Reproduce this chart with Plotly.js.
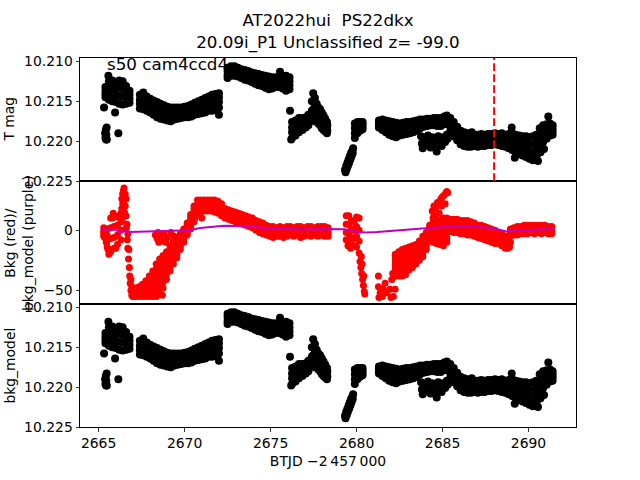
<!DOCTYPE html>
<html><head><meta charset="utf-8">
<script src="https://cdn.plot.ly/plotly-3.0.1.min.js"></script>
<style>html,body{margin:0;padding:0;background:#fff}#chart{width:640px;height:480px}</style>
</head><body><div id="chart"></div>
<script>
// ---------- Light curve (T mag), read as band rows ----------
const magTime = [
 2665.4,2665.6,2665.8,2666.0,2666.2,2666.4,2666.6,2666.8,
 2667.4,2667.6,2667.8,2668.0,2668.2,2668.4,2668.6,2668.8,2669.0,2669.2,2669.4,2669.6,2669.8,2670.0,2670.2,2670.4,2670.6,2670.8,2671.0,2671.2,2671.4,2671.6,2671.8,2672.0,
 2672.5,2672.7,2672.9,2673.1,2673.3,2673.5,2673.7,2673.9,2674.1,2674.3,2674.5,2674.7,2674.9,2675.1,2675.3,2675.5,2675.7,2675.9,2676.1,
 2676.25,2676.45,2676.65,2676.85,2677.05,2677.2,
 2679.9,2680.05,2680.2,2680.35,
 2681.3,2681.5,2681.7,2681.9,2682.1,2682.3,2682.5,2682.7,2682.9,2683.1,2683.3,2683.5,2683.7,2683.9,2684.1,2684.3,2684.5,2684.7,2684.9,2685.1,2685.25,
 2685.45,2685.65,2685.85,2686.05,2686.25,2686.45,2686.65,2686.85,2687.05,2687.25,2687.45,2687.65,2687.85,2688.05,2688.25,2688.45,2688.65,2688.85,2689.05,2689.25,2689.45,2689.65,2689.85,2690.05,2690.25,2690.45,
 2690.65,2690.85,2691.05,2691.25,2691.4];
const magUpper = [
 10.2132,10.2125,10.2124,10.2126,10.2124,10.2125,10.2131,10.2137,
 10.2142,10.2139,10.2144,10.2147,10.2149,10.2151,10.2153,10.2155,10.2157,10.2158,10.2158,10.2158,10.2158,10.2157,10.2156,10.2154,10.2152,10.2150,10.2148,10.2146,10.2144,10.2142,10.2141,10.2140,
 10.2108,10.2106,10.2106,10.2108,10.2110,10.2111,10.2112,10.2114,10.2115,10.2116,10.2117,10.2118,10.2119,10.2120,10.2120,10.2120,10.2119,10.2118,10.2120,
 10.2176,10.2174,10.2171,10.2171,10.2170,10.2167,
 10.2178,10.2176,10.2176,10.2176,
 10.2174,10.2173,10.2174,10.2175,10.2176,10.2177,10.2178,10.2177,10.2176,10.2176,10.2175,10.2174,10.2173,10.2173,10.2172,10.2172,10.2171,10.2171,10.2171,10.2169,10.2168,
 10.2171,10.2176,10.2182,10.2187,10.2189,10.2190,10.2191,10.2192,10.2192,10.2191,10.2192,10.2191,10.2191,10.2190,10.2191,10.2190,10.2192,10.2191,10.2190,10.2192,10.2193,10.2194,10.2194,10.2195,10.2194,10.2192,
 10.2184,10.2180,10.2179,10.2178,10.2180];
const magMid1 = [
 10.2137,10.2132,10.2133,10.2134,10.2133,10.2134,10.2138,10.2142,
 10.2148,10.2146,10.2150,10.2153,10.2155,10.2157,10.2159,10.2161,10.2163,10.2164,10.2163,10.2162,10.2162,10.2161,10.2161,10.2159,10.2157,10.2155,10.2153,10.2151,10.2149,10.2148,10.2147,10.2145,
 10.2112,10.2110,10.2110,10.2112,10.2114,10.2115,10.2116,10.2118,10.2119,10.2121,10.2122,10.2123,10.2124,10.2125,10.2124,10.2124,10.2124,10.2124,10.2125,
 10.2183,10.2180,10.2177,10.2176,10.2174,10.2171,
 10.2184,10.2181,10.2180,10.2179,
 10.2177,10.2177,10.2179,10.2180,10.2182,10.2183,10.2183,10.2182,10.2181,10.2181,10.2180,10.2178,10.2177,10.2176,10.2175,10.2175,10.2174,10.2174,10.2174,10.2172,10.2171,
 10.2177,10.2182,10.2188,10.2193,10.2195,10.2196,10.2196,10.2197,10.2197,10.2196,10.2197,10.2196,10.2196,10.2195,10.2196,10.2195,10.2197,10.2197,10.2197,10.2199,10.2201,10.2202,10.2203,10.2204,10.2204,10.2202,
 10.2192,10.2187,10.2185,10.2183,10.2184];
const magMid2 = [
 10.2141,10.2140,10.2142,10.2143,10.2143,10.2144,10.2146,10.2147,
 10.2153,10.2153,10.2156,10.2158,10.2161,10.2164,10.2166,10.2167,10.2168,10.2169,10.2168,10.2167,10.2167,10.2166,10.2165,10.2164,10.2162,10.2161,10.2159,10.2157,10.2155,10.2155,10.2154,10.2151,
 10.2117,10.2114,10.2114,10.2115,10.2117,10.2119,10.2120,10.2122,10.2124,10.2125,10.2126,10.2128,10.2130,10.2129,10.2128,10.2128,10.2129,10.2131,10.2130,
 10.2189,10.2187,10.2183,10.2181,10.2179,10.2176,
 10.2190,10.2186,10.2184,10.2182,
 10.2180,10.2182,10.2184,10.2186,10.2188,10.2189,10.2188,10.2187,10.2186,10.2185,10.2184,10.2183,10.2180,10.2179,10.2178,10.2177,10.2177,10.2178,10.2178,10.2176,10.2175,
 10.2182,10.2188,10.2193,10.2198,10.2200,10.2201,10.2202,10.2201,10.2202,10.2201,10.2201,10.2200,10.2200,10.2199,10.2200,10.2201,10.2202,10.2203,10.2204,10.2207,10.2208,10.2210,10.2211,10.2213,10.2214,10.2212,
 10.2200,10.2194,10.2191,10.2188,10.2188];
const magLower = [
 10.2145,10.2148,10.2150,10.2151,10.2153,10.2154,10.2153,10.2152,
 10.2159,10.2160,10.2162,10.2164,10.2167,10.2170,10.2172,10.2173,10.2174,10.2175,10.2173,10.2172,10.2171,10.2170,10.2170,10.2169,10.2167,10.2166,10.2165,10.2164,10.2162,10.2162,10.2161,10.2158,
 10.2121,10.2118,10.2118,10.2119,10.2121,10.2123,10.2124,10.2126,10.2128,10.2130,10.2131,10.2133,10.2135,10.2134,10.2132,10.2132,10.2134,10.2137,10.2135,
 10.2196,10.2193,10.2189,10.2186,10.2183,10.2180,
 10.2196,10.2190,10.2187,10.2185,
 10.2183,10.2186,10.2189,10.2192,10.2194,10.2195,10.2193,10.2192,10.2191,10.2190,10.2189,10.2187,10.2184,10.2182,10.2181,10.2180,10.2180,10.2181,10.2181,10.2179,10.2178,
 10.2188,10.2194,10.2199,10.2204,10.2206,10.2207,10.2207,10.2206,10.2207,10.2206,10.2206,10.2205,10.2205,10.2204,10.2205,10.2206,10.2207,10.2209,10.2211,10.2214,10.2216,10.2218,10.2220,10.2222,10.2224,10.2222,
 10.2208,10.2201,10.2197,10.2193,10.2192];
// isolated points, spike at 2677.5, dip at 2679.5, sub-cluster near 2684.5
const magExtraTime = [
 2665.38,2665.40,2665.42,2665.45,2665.47,2665.48,2665.44,
 2665.32,2665.57,2665.96,2666.15,2672.0,2675.55,2676.13,2676.2,
 2677.40,2677.40,2677.40,2677.48,2677.48,2677.48,2677.48,2677.58,2677.58,2677.58,2677.58,2677.68,2677.68,2677.68,2677.78,2677.78,2677.78,2677.88,2677.88,2677.88,2677.98,2677.98,2677.98,2678.08,2678.08,2678.08,2678.18,2678.18,2678.18,2678.28,2678.28,2678.28,2678.30,2678.30,
 2679.33,2679.36,2679.40,2679.43,2679.47,2679.50,2679.54,2679.57,2679.61,2679.64,2679.68,2679.71,2679.75,2679.78,2679.80,
 2683.75,2683.8,2683.85,2683.95,2684.05,2684.15,2684.25,2684.3,2684.4,2684.5,2684.6,2684.66,2684.75,2684.85,2684.95,2685.05,2685.15,2685.25,2685.3,
 2686.7,2689.02,2689.2,2690.55,2690.5,
 2691.15,2690.7,2690.9,2691.3];
const magExtraValue = [
 10.2190,10.2196,10.2186,10.2192,10.2183,10.2198,10.2198,
 10.2158,10.2118,10.2164,10.2190,10.2167,10.2113,10.2162,10.2198,
 10.2150,10.2162,10.2174,10.2140,10.2150,10.2160,10.2170,10.2146,10.2156,10.2166,10.2175,10.2153,10.2163,10.2173,10.2158,10.2168,10.2178,10.2160,10.2170,10.2180,10.2164,10.2174,10.2184,10.2168,10.2177,10.2186,10.2172,10.2180,10.2188,10.2176,10.2183,10.2190,10.2180,10.2187,
 10.2236,10.2239,10.2231,10.2235,10.2227,10.2231,10.2223,10.2227,10.2219,10.2223,10.2215,10.2219,10.2212,10.2215,10.2209,
 10.2194,10.2203,10.2209,10.2197,10.2205,10.2193,10.2200,10.2208,10.2195,10.2202,10.2209,10.2213,10.2194,10.2200,10.2206,10.2195,10.2201,10.2192,10.2197,
 10.2189,10.2183,10.2221,10.2225,10.2217,
 10.2169,10.2214,10.2210,10.2181];

// ---------- Background (red), read as band rows ----------
const bkgTime = [
 2665.3,2665.5,2665.7,2665.9,2666.1,2666.3,
 2667.15,2667.35,2667.55,2667.75,2667.95,2668.15,2668.35,2668.55,2668.75,2668.95,2669.15,2669.35,2669.55,2669.75,2669.95,2670.15,2670.35,2670.55,
 2670.75,2670.95,2671.15,2671.35,2671.55,2671.75,2671.95,2672.15,
 2672.35,2672.55,2672.75,2672.95,2673.15,2673.35,2673.55,2673.75,2673.95,2674.15,2674.35,2674.55,2674.75,
 2674.95,2675.15,2675.35,2675.55,2675.75,2675.95,2676.15,2676.35,2676.55,2676.75,2676.95,2677.15,2677.35,2677.55,2677.75,2677.95,2678.15,2678.35,
 2679.4,2679.55,2679.7,2679.85,2680.0,2680.15,
 2682.25,2682.45,2682.65,2682.85,2683.05,2683.25,2683.45,2683.65,2683.85,2684.05,2684.25,2684.45,2684.65,2684.85,2685.05,2685.25,
 2685.45,2685.65,2685.85,2686.05,2686.25,2686.45,2686.65,2686.85,2687.05,2687.25,2687.45,2687.65,2687.85,2688.05,2688.25,2688.45,2688.65,2688.8,
 2688.95,2689.15,2689.35,2689.55,2689.75,2689.95,2690.15,2690.35,2690.55,2690.75,2690.95,2691.15,2691.35];
const bkgUpper = [
 2,1,10,12,11,14,
 -48,-47,-45,-42,-38,-34,-28,-24,-21,-18,-13,-9,-6,-3,1,6,13,20,
 25,25,25,25,25,25,24,22,
 18,17,16,15,14,13,12,11,10,8,7,6,4,
 3,3,2,3,2,3,3,2,3,3,2,3,3,2,3,3,3,2,
 12,12,8,7,11,10,
 -20,-18,-16,-15,-14,-13,-12,-9,-5,-2,4,10,8,8,10,10,
 9,9,9,8,8,8,7,6,4,4,3,2,1,0,-2,-3,-5,-6,
 1,2,3,3,4,4,4,4,4,4,4,3,3];
const bkgMid1 = [
 -1,-4,2,3,4,7,
 -51,-50,-48,-46,-44,-41,-37,-33,-29,-25,-20,-15,-11,-7,-2,2,8,15,
 21,21,22,22,22,21,20,19,
 15,14,13,12,11,10,9,8,7,5,4,3,1,
 0,0,-1,0,-1,0,1,-1,0,0,-1,1,0,0,0,1,0,0,
 5,5,1,0,3,0,
 -26,-25,-23,-22,-20,-19,-17,-14,-11,-7,-1,3,2,1,3,3,
 5,5,5,4,4,3,3,2,1,0,-1,-2,-3,-4,-5,-6,-8,-9,
 -1,0,1,1,2,2,2,2,2,2,2,1,1];
const bkgMid2 = [
 -3,-9,-7,-6,-4,0,
 -53,-53,-52,-51,-49,-48,-46,-43,-38,-32,-27,-21,-17,-12,-6,-1,4,11,
 17,18,19,19,19,18,17,15,
 12,11,10,10,9,8,7,6,4,3,1,0,-2,
 -3,-3,-3,-2,-3,-3,-2,-3,-2,-3,-3,-2,-2,-2,-2,-2,-3,-3,
 -2,-3,-6,-7,-5,-9,
 -32,-31,-30,-29,-27,-25,-23,-20,-16,-12,-5,-3,-4,-5,-4,-3,
 1,1,1,0,0,-1,-1,-2,-3,-3,-4,-5,-6,-7,-8,-9,-11,-12,
 -3,-2,-1,-1,0,0,0,0,0,0,0,-1,-1];
const bkgLower = [
 -5,-14,-18,-15,-12,-8,
 -55,-55,-55,-55,-55,-55,-55,-53,-48,-41,-34,-28,-23,-16,-10,-4,1,7,
 13,15,16,16,16,15,14,12,
 10,9,8,7,6,5,4,3,2,0,-2,-3,-4,
 -5,-6,-5,-5,-6,-5,-4,-5,-4,-6,-5,-4,-5,-4,-5,-4,-5,-5,
 -8,-10,-12,-13,-14,-19,
 -38,-38,-38,-37,-33,-31,-28,-25,-22,-16,-9,-10,-11,-12,-13,-10,
 -1,-2,-2,-3,-3,-4,-4,-5,-6,-7,-8,-9,-10,-11,-11,-13,-15,-15,
 -5,-4,-4,-3,-3,-3,-2,-3,-2,-3,-2,-3,-3];
// extra rows inside the two thick, slanted red bands
const bkgFillTime = [
 2667.15,2667.35,2667.55,2667.75,2667.95,2668.15,2668.35,2668.55,2668.75,2668.95,2669.15,2669.35,2669.55,2669.75,2669.95,2670.15,2670.35,2670.55,
 2682.25,2682.45,2682.65,2682.85,2683.05,2683.25,2683.45,2683.65,2683.85,2684.05,2684.25,2684.45,2684.65,2684.85,2685.05,2685.25];
const bkgFillA = [
 -49.5,-48.5,-46.5,-44,-41,-37.5,-32.5,-28.5,-25,-21.5,-16.5,-12,-8.5,-5,-0.5,4,10.5,17.5,
 -23,-21.5,-19.5,-18.5,-17,-16,-14.5,-11.5,-8,-4.5,1.5,6.5,5,4.5,6.5,6.5];
const bkgFillB = [
 -52,-51.5,-50.5,-48.5,-46.5,-44.5,-41.5,-38,-33.5,-28.5,-23.5,-18,-14,-9.5,-4,0.5,6,13,
 -29,-28,-26.5,-25.5,-23.5,-22,-20,-17,-13.5,-9.5,-3,0,-1,-2,-0.5,0];
const bkgFillC = [
 -54,-54,-54,-53,-52.5,-52,-50.5,-48,-43,-36.5,-30.5,-24.5,-20,-14,-8,-2.5,2.5,9,
 -35,-34.5,-34,-33,-30,-28,-25.5,-22.5,-19,-14,-7,-6.5,-7.5,-8.5,-8.5,-6.5];
const bkgExtraTime = [
 2665.6,2665.75,2665.8,2666.0,2666.2,2665.45,2665.55,2665.85,2665.35,
 2666.35,2666.35,2666.40,2666.40,2666.40,2666.45,2666.48,2666.50,2666.50,2666.55,2666.55,2666.60,2666.60,2666.62,2666.65,2666.67,2666.70,2666.70,2666.74,2666.76,2666.79,2666.81,2666.84,2666.88,2666.88,2666.93,2666.98,2666.93,
 2668.3,2668.4,2668.45,2668.5,2668.6,2668.7,2668.8,2668.9,2669.0,2669.2,2669.4,2668.71,
 2671.0,2670.6,
 2680.2,2680.25,2680.3,2680.35,2680.32,2680.4,2680.42,2680.45,2680.48,2680.28,2679.5,2679.65,
 2681.27,2681.27,2681.3,2681.37,2681.56,2681.66,2681.76,2681.95,2682.05,2682.14,2682.24,2682.24,2682.1,2681.5,2682.0,
 2684.4,2684.5,2684.5,2684.6,2684.7,2684.8,2684.9,2685.0,2685.1,2685.2,2685.25,2685.3,2684.6,2684.8,2684.95,2685.15,
 2688.9,2688.95];
const bkgExtraValue = [
 -20,-16,10,-15,12,-10,-16,14,-6,
 18,26,10,22,30,33,35,25,15,30,20,26,12,2,5,-8,-15,-3,-24,-16,-31,-38,-44,-50,-41,-54,-55,-47,
 -4,-7,-2,-10,-5,-9,-3,-10,-6,-2,-5,-54,
 10,10,
 -26,-31,-36,-41,-28,-46,-38,-51,-53,-22,-13,-15,
 -38,-47,-56,-52,-49,-44,-52,-49,-41,-55,-49,-38,-36,-55,-56,
 16,12,20,18,23,22,26,28,29,31,32,31,10,14,20,22,
 -14,-10];

// ---------- Background model (purple line) ----------
const modelTime = [2665.2,2665.6,2666.0,2666.3,2666.5,2666.8,2667.5,2668.5,2669.5,2670.3,2670.9,2671.5,2672.3,2673.0,2673.8,2674.5,2675.3,2676.0,2677.0,2678.0,2678.6,2679.3,2680.1,2680.6,2681.2,2682.0,2682.6,2683.3,2684.0,2685.0,2685.7,2686.5,2687.5,2688.2,2688.7,2689.0,2689.8,2690.6,2691.5];
const modelValue = [0.8,0.5,0.3,-1.8,-0.5,-1.5,-1.2,-1.3,-0.8,0,1.8,2.5,3.6,3.5,3.2,2.0,1.0,0.9,0.6,1.0,1.0,0.8,-1.5,-1.9,-1.6,-0.6,0.2,0.8,1.6,2.4,3.0,2.8,2.2,0.8,-1.1,-0.2,0.3,0.6,1.0];

// ---------- Marked epoch and axis ticks ----------
const eventTimes = [2688.0];
const xTicks = [2665, 2670, 2675, 2680, 2685, 2690];
const magTicks = [10.210, 10.215, 10.220, 10.225];
const bkgTicks = [-50, 0];

function stack(times, cols) {
  const x = [], y = [];
  cols.forEach(c => { times.forEach((t, i) => { x.push(t); y.push(c[i]); }); });
  return {x, y};
}
const magPts = stack(magTime, [magUpper, magMid1, magMid2, magLower]);
const magX = magPts.x.concat(magExtraTime), magY = magPts.y.concat(magExtraValue);
const bkgPts = stack(bkgTime, [bkgUpper, bkgMid1, bkgMid2, bkgLower]);
const bkgFill = stack(bkgFillTime, [bkgFillA, bkgFillB, bkgFillC]);
const bkgX = bkgPts.x.concat(bkgFill.x, bkgExtraTime), bkgY = bkgPts.y.concat(bkgFill.y, bkgExtraValue);

const traces = [
  {x: magX, y: magY, xaxis: 'x', yaxis: 'y', type: 'scatter', mode: 'markers',
   marker: {color: 'black', size: 8, line: {width: 0}}, hoverinfo: 'skip'},
  {x: bkgX, y: bkgY, xaxis: 'x2', yaxis: 'y2', type: 'scatter', mode: 'markers',
   marker: {color: '#ff0000', size: 7, line: {width: 0}}, hoverinfo: 'skip'},
  {x: modelTime, y: modelValue, xaxis: 'x2', yaxis: 'y2', type: 'scatter', mode: 'lines',
   line: {color: '#bf00bf', width: 2}, hoverinfo: 'skip'},
  {x: magX, y: magY, xaxis: 'x3', yaxis: 'y3', type: 'scatter', mode: 'markers',
   marker: {color: 'black', size: 8, line: {width: 0}}, hoverinfo: 'skip'}
];

const axBase = {showline: true, mirror: true, linecolor: 'black', linewidth: 1,
  ticks: 'outside', ticklen: 3.5, tickwidth: 0.8, tickcolor: 'black',
  showgrid: false, zeroline: false};
const xRange = [2663.92, 2692.76];
const magRange = [10.225, 10.20958];

const layout = {
  width: 640, height: 480,
  margin: {l: 80, r: 64, t: 58, b: 53},
  paper_bgcolor: 'white', plot_bgcolor: 'white',
  showlegend: false,
  font: {family: 'DejaVu Sans', size: 13.9, color: 'black'},
  title: {text: 'AT2022hui \u00a0PS22dkx<br>20.09i_P1 Unclassified z= -99.0',
    font: {size: 16.7, color: 'black'}, xref: 'paper', x: 0.5, xanchor: 'center',
    yref: 'paper', y: 1, yanchor: 'bottom', pad: {b: 32}},
  xaxis: Object.assign({}, axBase, {anchor: 'y', domain: [0, 1], range: xRange, matches: 'x3',
    tickvals: xTicks, showticklabels: false, ticks: ''}),
  xaxis2: Object.assign({}, axBase, {anchor: 'y2', domain: [0, 1], range: xRange, matches: 'x3',
    tickvals: xTicks, showticklabels: false, ticks: ''}),
  xaxis3: Object.assign({}, axBase, {anchor: 'y3', domain: [0, 1], range: xRange,
    tickvals: xTicks, ticktext: xTicks.map(String),
    title: {text: 'BTJD \u22122\u2009457\u2009000', font: {size: 13.9}, standoff: 6}}),
  yaxis: Object.assign({}, axBase, {anchor: 'x', domain: [2/3, 1], range: magRange,
    tickvals: magTicks, tickformat: '.3f'}),
  yaxis2: Object.assign({}, axBase, {anchor: 'x2', domain: [1/3, 2/3], range: [-61.3, 40.8],
    tickvals: bkgTicks}),
  yaxis3: Object.assign({}, axBase, {anchor: 'x3', domain: [0, 1/3], range: magRange,
    tickvals: magTicks, tickformat: '.3f'}),
  shapes: eventTimes.map(t => ({type: 'line', xref: 'x', yref: 'y domain', x0: t, x1: t, y0: 0, y1: 1,
    line: {color: '#ff0000', width: 2, dash: '7.7px,3.3px'}, layer: 'above'})),
  annotations: [
    {text: 's50 cam4ccd4', xref: 'paper', yref: 'paper', x: 0.0504, y: 0.9837,
     xanchor: 'left', yanchor: 'middle', showarrow: false, font: {size: 16.7}},
    {text: 'T mag', xref: 'paper', yref: 'paper', x: -0.143, y: 5/6, textangle: -90,
     xanchor: 'center', yanchor: 'middle', showarrow: false},
    {text: 'Bkg (red)/<br>bkg_model (purple)', xref: 'paper', yref: 'paper', x: -0.124, y: 0.5, textangle: -90,
     xanchor: 'center', yanchor: 'middle', showarrow: false},
    {text: 'bkg_model', xref: 'paper', yref: 'paper', x: -0.143, y: 1/6, textangle: -90,
     xanchor: 'center', yanchor: 'middle', showarrow: false}
  ]
};

Plotly.newPlot('chart', traces, layout, {staticPlot: true, displayModeBar: false});
</script></body></html>
